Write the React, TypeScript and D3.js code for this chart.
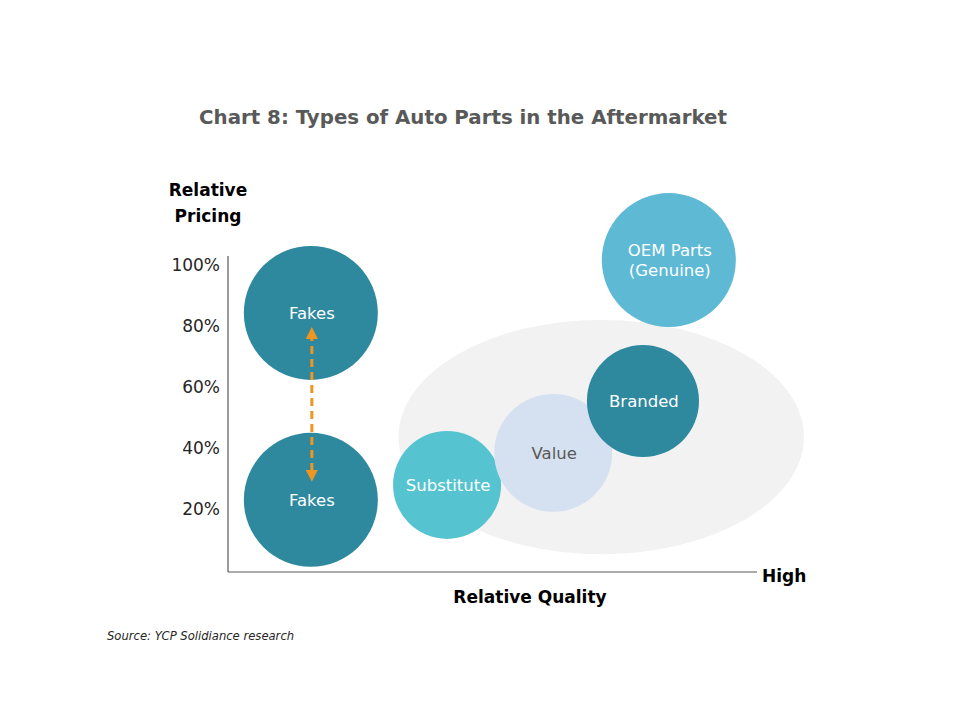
import React from "react";
import * as d3 from "d3";

const categories = ["Fakes", "Fakes", "Substitute", "Value", "Branded", "OEM Parts\n(Genuine)"];
const qualityValues = [15.5, 15.5, 41.3, 61.4, 78.4, 83.3];
const pricingValues = [84.3, 23.0, 27.9, 38.4, 55.4, 101.6];
const sizeValues = [100, 100, 65, 77.5, 70, 100];
const yTicks = [20, 40, 60, 80, 100];
const aftermarketZone = { quality: 70.5, pricing: 43.6, spread: 38.4 };

const fills = ["#2E899F", "#2E899F", "#55C4D0", "#D5E1F0", "#2E899F", "#5EB9D5"];
const textFills = ["#FFFFFF", "#FFFFFF", "#FFFFFF", "#595959", "#FFFFFF", "#FFFFFF"];

const FONT = "'DejaVu Sans', sans-serif";

export default function App() {
  const W = 960, H = 720;
  const x = d3.scaleLinear().domain([0, 100]).range([229, 757]);
  const y = d3.scaleLinear().domain([0, 100]).range([570, 265]);
  const r = d3.scaleSqrt().domain([0, 100]).range([0, 67]);

  const ex = x(aftermarketZone.quality);
  const ey = y(aftermarketZone.pricing);
  const erx = x(aftermarketZone.spread) - x(0);
  const ery = y(0) - y(aftermarketZone.spread);

  const arrowX = x(qualityValues[0]);
  const arrowTop = y(pricingValues[0]) + 20;
  const arrowBot = y(pricingValues[1]) - 24;

  return (
    <svg width={W} height={H} style={{ position: "absolute", left: 0, top: 0, background: "#fff" }}>
      <defs>
        <marker id="ah" viewBox="0 0 10 10" refX="5" refY="5" markerWidth="4" markerHeight="4" orient="auto-start-reverse">
          <path d="M0,0 L10,5 L0,10 z" fill="#F0961E" />
        </marker>
      </defs>
      <rect width={W} height={H} fill="#fff" />
      <text x={463} y={124} textAnchor="middle" fontFamily={FONT} fontWeight={700} fontSize={19.8} fill="#595959">
        Chart 8: Types of Auto Parts in the Aftermarket
      </text>

      <ellipse cx={ex} cy={ey} rx={erx} ry={ery} fill="#F2F2F2" />

      <line x1={x(0) - 1} y1={y(0) + 2} x2={x(0) - 1} y2={256} stroke="#595959" strokeWidth={1.2} />
      <line x1={x(0) - 1} y1={y(0) + 2} x2={x(100)} y2={y(0) + 2} stroke="#595959" strokeWidth={1.2} />

      {yTicks.map((t) => (
        <text key={t} x={220} y={y(t) + 6} textAnchor="end" fontFamily={FONT} fontSize={17} fill="#262626">
          {t}%
        </text>
      ))}

      <text x={208} y={196} textAnchor="middle" fontFamily={FONT} fontWeight={700} fontSize={17} fill="#000">Relative</text>
      <text x={208} y={222} textAnchor="middle" fontFamily={FONT} fontWeight={700} fontSize={17} fill="#000">Pricing</text>
      <text x={530} y={603} textAnchor="middle" fontFamily={FONT} fontWeight={700} fontSize={17} fill="#000">Relative Quality</text>
      <text x={762} y={582} textAnchor="start" fontFamily={FONT} fontWeight={700} fontSize={17} fill="#000">High</text>

      {categories.map((c, i) => {
        const lines = c.split("\n");
        const cx = x(qualityValues[i]);
        const cy = y(pricingValues[i]);
        return (
          <g key={i}>
            <circle cx={cx} cy={cy} r={r(sizeValues[i])} fill={fills[i]} />
            {lines.map((l, j) => (
              <text
                key={j}
                x={cx + 1}
                y={cy + 6 + (j - (lines.length - 1) / 2) * 20}
                textAnchor="middle"
                fontFamily={FONT}
                fontSize={16.5}
                fill={textFills[i]}
              >
                {l}
              </text>
            ))}
          </g>
        );
      })}

      <line
        x1={arrowX + 1}
        y1={arrowTop}
        x2={arrowX + 1}
        y2={arrowBot}
        stroke="#F0961E"
        strokeWidth={3}
        strokeDasharray="8,5"
        markerStart="url(#ah)"
        markerEnd="url(#ah)"
      />

      <text x={107} y={640} fontFamily={FONT} fontStyle="italic" fontSize={11.6} fill="#262626">
        Source: YCP Solidiance research
      </text>
    </svg>
  );
}
